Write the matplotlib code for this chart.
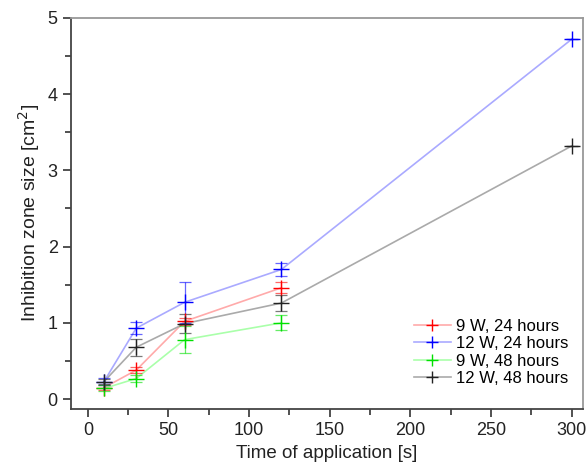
import matplotlib.pyplot as plt
from matplotlib.ticker import MultipleLocator

plt.rcParams['font.family'] = ['Liberation Sans', 'DejaVu Sans']

time_s = [10, 30, 60, 120, 300]

red_y = [0.15, 0.38, 1.02, 1.46]
red_err = [0.03, 0.04, 0.05, 0.07]
blue_y = [0.23, 0.93, 1.27, 1.70, 4.72]
blue_err = [0.05, 0.08, 0.27, 0.08, 0.0]
green_y = [0.14, 0.27, 0.78, 1.00]
green_err = [0.04, 0.05, 0.18, 0.10]
black_y = [0.23, 0.68, 0.99, 1.26, 3.32]
black_err = [0.03, 0.11, 0.12, 0.10, 0.0]

labels = ['9 W, 24 hours', '12 W, 24 hours', '9 W, 48 hours', '12 W, 48 hours']

series = [
    (time_s[:4], red_y, red_err, '#ff0000', '#ffaaaa'),
    (time_s, blue_y, blue_err, '#0000ff', '#aaaaff'),
    (time_s[:4], green_y, green_err, '#00e000', '#aaffaa'),
    (time_s, black_y, black_err, '#222222', '#aaaaaa'),
]

fig = plt.figure(figsize=(5.86, 4.68), dpi=100)
ax = fig.add_axes([0.121, 0.126, 0.874, 0.836])

for (x, y, err, c, lc), lab in zip(series, labels):
    ax.plot(x, y, color=lc, lw=1.2, zorder=1)
    ax.errorbar(x, y, yerr=err, fmt='none', ecolor=c, elinewidth=0.9,
                capsize=4, capthick=0.9, alpha=0.6, zorder=2)
    ax.plot(x, y, ls='none', marker='+', ms=11, mew=1.0, color=c, zorder=3)
    ax.plot([], [], color=lc, lw=1.2, marker='+', ms=9, mew=1.0,
            mec=c, label=lab)

ax.set_xlim(-10.5, 307)
ax.set_ylim(-0.13, 5)
ax.xaxis.set_major_locator(MultipleLocator(50))
ax.xaxis.set_minor_locator(MultipleLocator(25))
ax.yaxis.set_major_locator(MultipleLocator(1))
ax.yaxis.set_minor_locator(MultipleLocator(0.5))
ax.tick_params(which='major', direction='out', length=6, width=1.2,
               color='#333333', labelsize=13, labelcolor='#222222')
ax.tick_params(which='minor', direction='out', length=4, width=1.2,
               color='#333333')
for s in ax.spines.values():
    s.set_linewidth(1.3)
    s.set_color('#444444')
ax.spines['top'].set_color('#999999')
ax.spines['right'].set_color('#999999')

ax.set_xlabel('Time of application [s]', fontsize=13.5, color='#222222')
ax.set_ylabel('Inhibition zone size [cm$^2$]', fontsize=14, color='#222222')
ax.legend(loc='lower right', frameon=False, fontsize=12,
          handlelength=2.2, handletextpad=0.3, labelspacing=0.15,
          bbox_to_anchor=(1.0, 0.02))

fig.savefig('out.png', dpi=100)
